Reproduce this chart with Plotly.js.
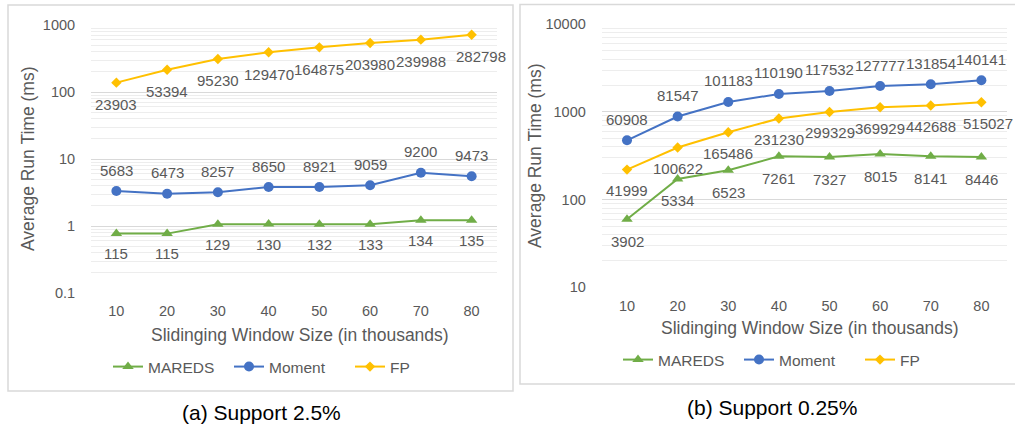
<!DOCTYPE html>
<html>
<head>
<meta charset="utf-8">
<script src="https://cdn.plot.ly/plotly-3.0.1.min.js"></script>
<style>html,body{margin:0;padding:0;background:#fff;}#chart{width:1015px;height:424px;}</style>
</head>
<body>
<div id="chart"></div>
<script>
// ---------- data ----------
const categories = ['10', '20', '30', '40', '50', '60', '70', '80'];

// (a) Support 2.5%
const leftMareds = [0.77, 0.77, 1.06, 1.07, 1.06, 1.06, 1.22, 1.22];
const leftMaredsLabels = ['115', '115', '129', '130', '132', '133', '134', '135'];
const leftMoment = [3.33, 3.03, 3.19, 3.82, 3.82, 4.05, 6.25, 5.52];
const leftMomentLabels = ['5683', '6473', '8257', '8650', '8921', '9059', '9200', '9473'];
const leftFP = [138, 215, 311, 391, 464, 539, 604, 716];
const leftFPLabels = ['23903', '53394', '95230', '129470', '164875', '203980', '239988', '282798'];

// (b) Support 0.25%
const rightMareds = [59.6, 172, 216, 312, 306, 331, 312, 306];
const rightMaredsLabels = ['3902', '5334', '6523', '7261', '7327', '8015', '8141', '8446'];
const rightMoment = [475, 887, 1300, 1604, 1735, 1978, 2070, 2298];
const rightMomentLabels = ['60908', '81547', '101183', '110190', '117532', '127777', '131854', '140141'];
const rightFP = [220, 393, 587, 841, 1000, 1132, 1183, 1290];
const rightFPLabels = ['41999', '100622', '165486', '231230', '299329', '369929', '442688', '515027'];

const leftTickVals = [0.1, 1, 10, 100, 1000];
const leftTickText = ['0.1', '1', '10', '100', '1000'];
const rightTickVals = [10, 100, 1000, 10000];
const rightTickText = ['10', '100', '1000', '10000'];

const seriesNames = ['MAREDS', 'Moment', 'FP'];
const xTitle = 'Slidinging Window Size (in thousands)';
const yTitle = 'Average Run Time (ms)';
const captions = ['(a) Support 2.5%', '(b) Support 0.25%'];

// ---------- styles ----------
const W = 1015, H = 424;
const px = v => v / W;
const py = v => 1 - v / H;
const FONT = 'Arial, "Liberation Sans", sans-serif';
const TXT = '#595959';
const GREEN = '#70AD47', BLUE = '#4472C4', GOLD = '#FFC000';

function series(y, name, color, symbol, size, xa, ya, legend) {
  return {
    x: categories, y: y, name: name, type: 'scatter', mode: 'lines+markers',
    xaxis: xa, yaxis: ya, legend: legend,
    line: {color: color, width: 2},
    marker: {color: color, symbol: symbol, size: size}
  };
}

const traces = [
  series(leftMareds, seriesNames[0], GREEN, 'triangle-up', 10, 'x', 'y', 'legend'),
  series(leftMoment, seriesNames[1], BLUE, 'circle', 10, 'x', 'y', 'legend'),
  series(leftFP, seriesNames[2], GOLD, 'diamond', 8, 'x', 'y', 'legend'),
  series(rightMareds, seriesNames[0], GREEN, 'triangle-up', 10, 'x2', 'y2', 'legend2'),
  series(rightMoment, seriesNames[1], BLUE, 'circle', 10, 'x2', 'y2', 'legend2'),
  series(rightFP, seriesNames[2], GOLD, 'diamond', 8, 'x2', 'y2', 'legend2')
];

const annotations = [];
// data labels; the last label of a series may be nudged right to stay inside the chart
function labels(vals, texts, xref, yref, shift, lastNudge) {
  vals.forEach((v, i) => {
    annotations.push({
      x: i, y: Math.log10(v), xref: xref, yref: yref,
      text: texts[i], showarrow: false, yshift: shift,
      xshift: (i === vals.length - 1) ? lastNudge : 0,
      font: {family: FONT, size: 15, color: TXT}
    });
  });
}
labels(leftMareds, leftMaredsLabels, 'x', 'y', -20, 0);
labels(leftMoment, leftMomentLabels, 'x', 'y', 21, 0);
labels(leftFP, leftFPLabels, 'x', 'y', -22, 9);
labels(rightMareds, rightMaredsLabels, 'x2', 'y2', -22, 0);
labels(rightMoment, rightMomentLabels, 'x2', 'y2', 21, 0);
labels(rightFP, rightFPLabels, 'x2', 'y2', -21, 7);

function txt(text, x, y, size, color, angle) {
  annotations.push({
    text: text, x: px(x), y: py(y), xref: 'paper', yref: 'paper',
    xanchor: 'center', yanchor: 'middle', showarrow: false, textangle: angle || 0,
    font: {family: FONT, size: size, color: color}
  });
}
txt(xTitle, 299.5, 335, 17.5, TXT);
txt(xTitle, 810, 328, 17.5, TXT);
txt(yTitle, 28, 159, 17.5, TXT, -90);
txt(yTitle, 535, 156, 17.5, TXT, -90);
txt(captions[0], 261, 412, 21, '#000');
txt(captions[1], 772, 407, 21, '#000');

function xaxis(domain) {
  return {
    domain: domain, type: 'category', range: [-0.5, 7.5],
    showgrid: false, zeroline: false, showline: false,
    ticks: 'outside', ticklen: 5, tickcolor: 'rgba(0,0,0,0)',
    tickfont: {family: FONT, size: 14.5, color: TXT}, fixedrange: true
  };
}
function yaxis(domain, range, vals, text, anchor) {
  return {
    domain: domain, type: 'log', range: range, anchor: anchor,
    tickmode: 'array', tickvals: vals, ticktext: text,
    showgrid: true, gridcolor: '#D9D9D9', gridwidth: 1,
    zeroline: false, showline: false,
    ticks: 'outside', ticklen: 12, tickcolor: 'rgba(0,0,0,0)',
    tickfont: {family: FONT, size: 14.5, color: TXT},
    minor: {showgrid: true, gridcolor: '#EDEDED', gridwidth: 1, dtick: 'D1'},
    fixedrange: true
  };
}

const legendBase = {
  orientation: 'h', xanchor: 'left', yanchor: 'middle',
  font: {family: FONT, size: 15.5, color: TXT}, bgcolor: 'rgba(0,0,0,0)',
  itemwidth: 30, entrywidth: 76, entrywidthmode: 'pixels'
};

const layout = {
  width: W, height: H, margin: {l: 0, r: 0, t: 0, b: 0},
  paper_bgcolor: '#fff', plot_bgcolor: '#fff', showlegend: true,
  xaxis: Object.assign(xaxis([px(91), px(497)]), {anchor: 'y'}),
  yaxis: yaxis([py(293), py(25)], [-1, 3], leftTickVals, leftTickText, 'x'),
  xaxis2: Object.assign(xaxis([px(601.7), px(1006.7)]), {anchor: 'y2'}),
  yaxis2: yaxis([py(287.3), py(24.3)], [1, 4], rightTickVals, rightTickText, 'x2'),
  legend: Object.assign({x: px(108), y: py(367)}, legendBase),
  legend2: Object.assign({x: px(618), y: py(360)}, legendBase),
  annotations: annotations,
  shapes: [
    {type: 'rect', xref: 'paper', yref: 'paper', x0: px(8), x1: px(513), y0: py(391), y1: py(5),
     line: {color: '#D9D9D9', width: 1.5}, layer: 'below'},
    {type: 'rect', xref: 'paper', yref: 'paper', x0: px(520), x1: px(1020), y0: py(384), y1: py(4.5),
     line: {color: '#D9D9D9', width: 1.5}, layer: 'below'}
  ]
};

Plotly.newPlot('chart', traces, layout, {displayModeBar: false, staticPlot: true});
</script>
</body>
</html>
